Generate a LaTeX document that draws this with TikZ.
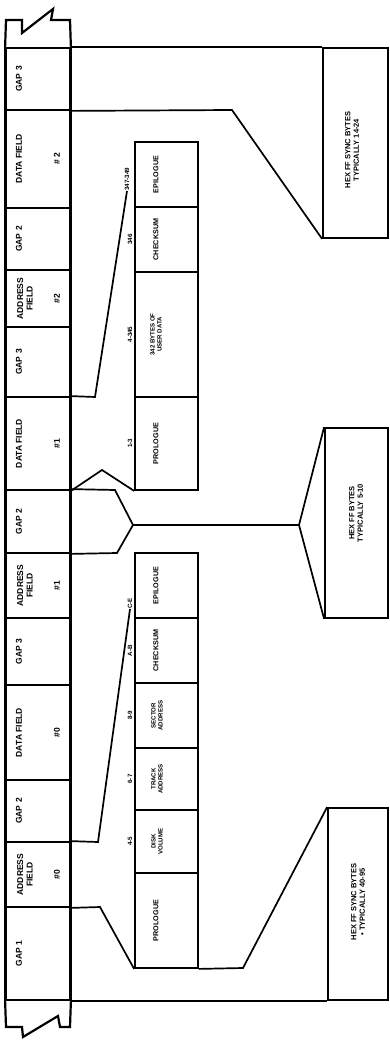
\documentclass[tikz,border=0pt]{standalone}
\usepackage{fontspec}
\setmainfont{Liberation Sans}
\begin{document}
\begin{tikzpicture}[x=1pt,y=-1pt,
  cell/.style={draw, line width=1.8pt, minimum width=64pt, inner sep=0pt},
  dbox/.style={draw, line width=1.8pt, minimum width=63pt, inner sep=0pt},
  rbox/.style={draw, line width=1.8pt, inner sep=0pt},
  outline/.style={line width=2.2pt, line join=miter},
  conn/.style={line width=1.7pt, line join=miter},
  lab/.style={rotate=90, font=\bfseries\fontsize{8.5}{9.5}\selectfont, inner sep=0pt, align=center},
  dlab/.style={rotate=90, font=\bfseries\fontsize{7.2}{7.7}\selectfont, inner sep=0pt, align=center},
  dlabs/.style={rotate=90, font=\bfseries\fontsize{6.1}{6.8}\selectfont, inner sep=0pt, align=center},
  blab/.style={rotate=90, font=\bfseries\fontsize{6.2}{7}\selectfont, inner sep=0pt},
  rlab/.style={rotate=90, font=\bfseries\fontsize{7.5}{8.5}\selectfont, inner sep=0pt, align=center}]
\useasboundingbox (0,0) rectangle (390,1040);

% ---- track strip cells ----
\node[cell, minimum height=62pt] (gapA)   at (38,79)    {};
\node[cell, minimum height=98pt] (dfTwo)  at (38,159)   {};
\node[cell, minimum height=62pt] (gapB)   at (38,239)   {};
\node[cell, minimum height=57pt] (afTwo)  at (38,298.5) {};
\node[cell, minimum height=70pt] (gapC)   at (38,362)   {};
\node[cell, minimum height=93pt] (dfOne)  at (38,443.5) {};
\node[cell, minimum height=63pt] (gapD)   at (38,521.5) {};
\node[cell, minimum height=65pt] (afOne)  at (38,585.5) {};
\node[cell, minimum height=67pt] (gapE)   at (38,651.5) {};
\node[cell, minimum height=95pt] (dfZero) at (38,732.5) {};
\node[cell, minimum height=62pt] (gapF)   at (38,811)   {};
\node[cell, minimum height=65pt] (afZero) at (38,874.5) {};
\node[cell, minimum height=93pt] (gapOne) at (38,953.5) {};

% broken ends
\draw[outline] (gapA.north west) -- (6,20) -- (22,20) -- (22,33) -- (53,9) -- (51,20) -- (70,20) -- (gapA.north east);
\draw[outline] (gapOne.south west) -- (6,1027) -- (22,1027) -- (23,1037) -- (58,1016) -- (60,1027) -- (70,1027) -- (gapOne.south east);
\draw[outline] (gapA.north west) -- (gapOne.south west);
\draw[outline] (gapA.north east) -- (gapOne.south east);

% strip labels
\node[lab] (tGapA) at (19,79) {GAP 3};
\node[lab] (tDfTwo) at (19,159) {DATA FIELD};
\node[lab] (nDfTwo) at (57,159) {\# 2};
\node[lab] (tGapB) at (19,239) {GAP 2};
\node[lab] (tAfTwo) at (25,298.5) {ADDRESS\\FIELD};
\node[lab] (nAfTwo) at (57,298.5) {\#2};
\node[lab] (tGapC) at (19,362) {GAP 3};
\node[lab] (tDfOne) at (19,443.5) {DATA FIELD};
\node[lab] (nDfOne) at (57,443.5) {\#1};
\node[lab] (tGapD) at (19,521.5) {GAP 2};
\node[lab] (tAfOne) at (25,585.5) {ADDRESS\\FIELD};
\node[lab] (nAfOne) at (57,585.5) {\#1};
\node[lab] (tGapE) at (19,651.5) {GAP 3};
\node[lab] (tDfZero) at (19,732.5) {DATA FIELD};
\node[lab] (nDfZero) at (57,732.5) {\#0};
\node[lab] (tGapF) at (19,811) {GAP 2};
\node[lab] (tAfZero) at (25,874.5) {ADDRESS\\FIELD};
\node[lab] (nAfZero) at (57,874.5) {\#0};
\node[lab] (tGapOne) at (19,953.5) {GAP 1};

% ---- data field detail ----
\node[dbox, minimum height=65pt]  (dEpi) at (166.5,174.5) {};
\node[dbox, minimum height=65pt]  (dChk) at (166.5,239.5) {};
\node[dbox, minimum height=125pt] (dUsr) at (166.5,334.5) {};
\node[dbox, minimum height=93pt]  (dPro) at (166.5,443.5) {};
\node[dlab] (tdEpi) at (156,174.5) {EPILOGUE};
\node[dlab] (tdChk) at (156,239.5) {CHECKSUM};
\node[dlabs] (tdUsr) at (156,334.5) {342 BYTES OF\\USER DATA};
\node[dlab] (tdPro) at (156,443.5) {PROLOGUE};
\node[blab] (b13) at (130,443.5) {1-3};
\node[blab] (b4345) at (130,334.5) {4-345};
\node[blab] (b346) at (130,239.5) {346};
\node[blab, anchor=west] (b349) at (127,191) {347-349};

% ---- address field detail ----
\node[dbox, minimum height=65pt] (aEpi) at (166.5,585.5) {};
\node[dbox, minimum height=65pt] (aChk) at (166.5,650.5) {};
\node[dbox, minimum height=65pt] (aSec) at (166.5,715.5) {};
\node[dbox, minimum height=62pt] (aTrk) at (166.5,779)   {};
\node[dbox, minimum height=63pt] (aVol) at (166.5,841.5) {};
\node[dbox, minimum height=95pt] (aPro) at (166.5,920.5) {};
\node[dlab] (taEpi) at (156,585.5) {EPILOGUE};
\node[dlab] (taChk) at (156,650.5) {CHECKSUM};
\node[dlabs] (taSec) at (157,715.5) {SECTOR\\ADDRESS};
\node[dlabs] (taTrk) at (157,779) {TRACK\\ADDRESS};
\node[dlabs] (taVol) at (157,841.5) {DISK\\VOLUME};
\node[dlab] (taPro) at (156,920.5) {PROLOGUE};
\node[blab] (b45) at (130,841.5) {4-5};
\node[blab] (b67) at (130,779) {6-7};
\node[blab] (b89) at (130,715.5) {8-9};
\node[blab] (bAB) at (130,650.5) {A-B};
\node[blab, anchor=west] (bCE) at (130,609) {C-E};

% ---- right boxes ----
\node[rbox, minimum width=65pt, minimum height=190pt] (boxTop) at (355.5,143) {};
\node[rbox, minimum width=63pt, minimum height=190pt] (boxMid) at (356.5,523) {};
\node[rbox, minimum width=60pt, minimum height=192pt] (boxBot) at (358,904) {};
\node[rlab] (tTop) at (352,150) {HEX FF SYNC BYTES\\TYPICALLY 14-24};
\node[rlab] (tMid) at (356,513) {HEX FF BYTES\\TYPICALLY 5-10};
\node[rlab] (tBot) at (358,902) {HEX FF SYNC BYTES\\\textbullet\ TYPICALLY 40-95};

% ---- connectors ----
\coordinate (k1) at (232,110);
\draw[conn] (gapA.north east) -- (boxTop.north west);
\draw[conn] (gapA.south east) -- (k1) -- (boxTop.south west);

\coordinate (k2) at (95,397);
\draw[conn] (dfOne.north east) -- (k2) -- (b349.west);
\coordinate (k3) at (102,470);
\draw[conn] (dfOne.south east) -- (k3) -- (dPro.south west);

\coordinate (k4) at (115,490);
\coordinate (k5) at (117,553);
\coordinate (v)  at (133,525);
\coordinate (k6) at (299,525);
\draw[conn] (gapD.north east) -- (k4) -- (v) -- (k5) -- (gapD.south east);
\draw[conn] (v) -- (k6) -- (boxMid.north west);
\draw[conn] (k6) -- (boxMid.south west);

\coordinate (k7) at (98,842);
\draw[conn] (afZero.north east) -- (k7) -- (bCE.west);
\coordinate (k8) at (100,907);
\draw[conn] (afZero.south east) -- (k8) -- (aPro.south west);
\coordinate (k9) at (243,968);
\draw[conn] (aPro.south east) -- (k9) -- (boxBot.north west);
\draw[conn] (gapOne.south east) -- (boxBot.south west);
\end{tikzpicture}
\end{document}
